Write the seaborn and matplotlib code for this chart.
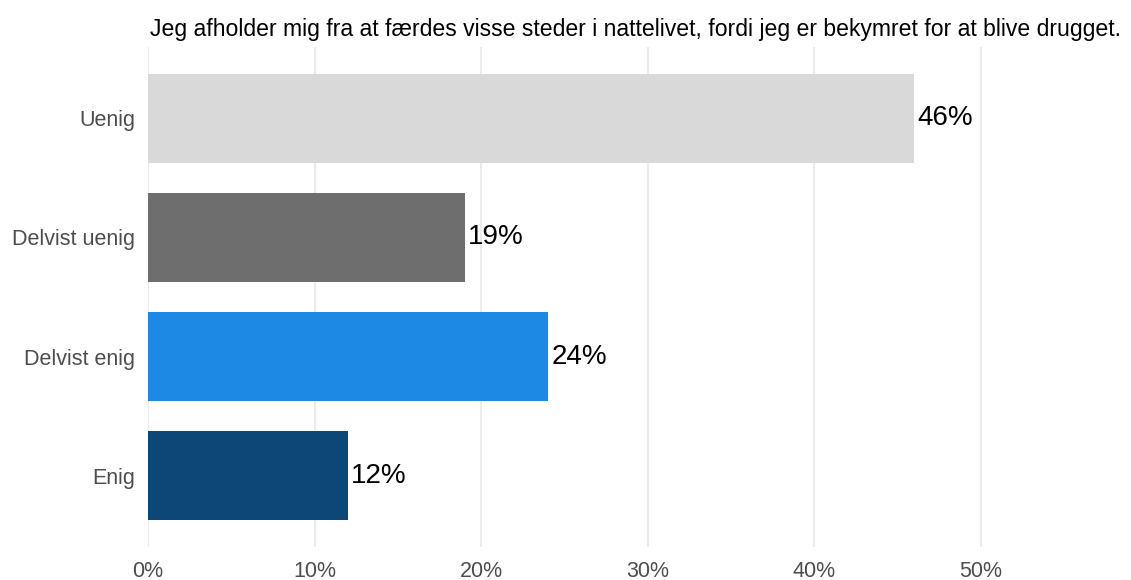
import pandas as pd
import seaborn as sns
import matplotlib.pyplot as plt
from matplotlib.ticker import PercentFormatter

categories = ['Uenig', 'Delvist uenig', 'Delvist enig', 'Enig']
shares = [0.46, 0.19, 0.24, 0.12]
bar_colors = ['#D9D9D9', '#6E6E6E', '#1E88E5', '#0D4778']
title = 'Jeg afholder mig fra at færdes visse steder i nattelivet, fordi jeg er bekymret for at blive drugget.'

df = pd.DataFrame({'svar': categories, 'andel': shares})

sns.set_theme(style='white')
plt.rcParams['font.family'] = ['Liberation Sans', 'DejaVu Sans']

fig = plt.figure(figsize=(11.31, 5.8), dpi=100)
ax = fig.add_axes([148 / 1131, 33 / 580, 983 / 1131, 500 / 580])

sns.barplot(data=df, x='andel', y='svar', hue='svar', palette=bar_colors,
            order=categories, width=0.75, saturation=1, linewidth=0,
            legend=False, ax=ax, zorder=2)

ax.set_xlim(0, 983 / 1666)
ax.set_ylim(3.6, -0.6)
ax.set_xticks([0, 0.1, 0.2, 0.3, 0.4, 0.5])
ax.xaxis.set_major_formatter(PercentFormatter(1.0, decimals=0))
ax.grid(axis='x', color='#EBEBEB', linewidth=1.5, zorder=0)
ax.grid(axis='y', visible=False)
ax.set_axisbelow(True)
for s in ax.spines.values():
    s.set_visible(False)
ax.set_xlabel('')
ax.set_ylabel('')
ax.tick_params(axis='y', length=0, labelsize=15.5, labelcolor='#4D4D4D', pad=9)
ax.tick_params(axis='x', length=0, labelsize=15.5, labelcolor='#4D4D4D', pad=10)

for p, v in zip(ax.patches, shares):
    ax.text(v + 0.002, p.get_y() + p.get_height() / 2, f'{v * 100:.0f}%',
            va='center', ha='left', fontsize=20, color='black')

ax.set_title(title, loc='left', fontsize=16.6, color='black', pad=8, x=0.002)

fig.savefig('out.png', dpi=100)
